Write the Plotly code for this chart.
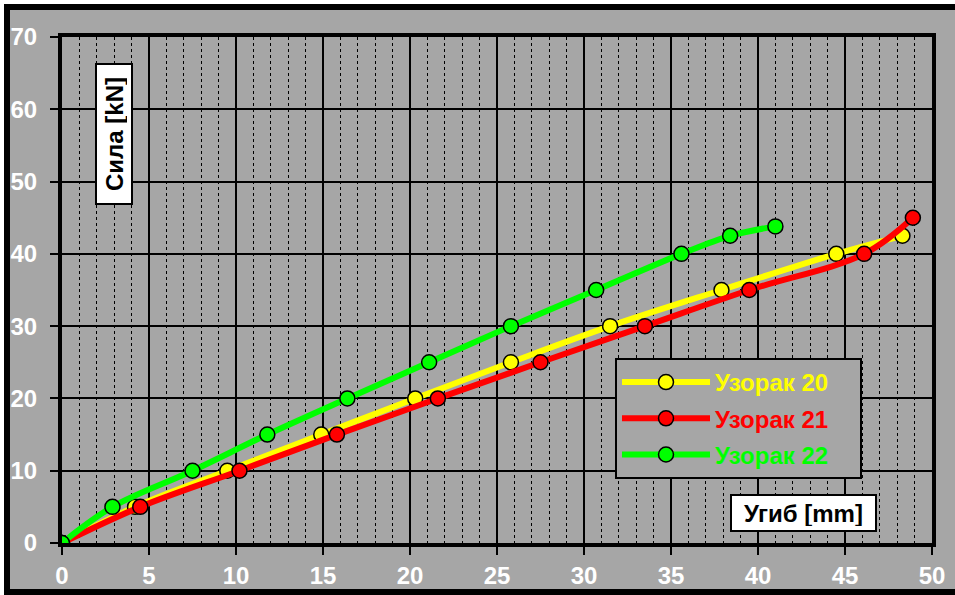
import plotly.graph_objects as go

# Узорак 20
x20 = [0, 4.2, 9.5, 14.9, 20.3, 25.8, 31.5, 37.9, 44.5, 48.3]
y20 = [0, 5, 10, 15, 20, 25, 30, 35, 40, 42.5]
# Узорак 21
x21 = [0, 4.5, 10.2, 15.8, 21.6, 27.5, 33.5, 39.5, 46.1, 48.9]
y21 = [0, 5, 10, 15, 20, 25, 30, 35, 40, 45]
# Узорак 22
x22 = [0, 2.9, 7.5, 11.8, 16.4, 21.1, 25.8, 30.7, 35.6, 38.4, 41.0]
y22 = [0, 5, 10, 15, 20, 25, 30, 35, 40, 42.5, 43.8]

names = ['Узорак 20', 'Узорак 21', 'Узорак 22']
colors = ['#ffff00', '#ff0000', '#00ff00']

W, H = 955, 595
ML, MR, MT, MB = 62, 23, 37, 52
pw, ph = W - ML - MR, H - MT - MB


# screen pixel -> paper fraction
def px(x):
    return (x - ML) / pw


def py(y):
    return (H - MB - y) / ph


fig = go.Figure()
for xs, ys, name, c in zip([x20, x21, x22], [y20, y21, y22], names, colors):
    fig.add_trace(go.Scatter(
        x=xs, y=ys, mode='lines+markers', line_shape='spline',
        name='<span style="color:%s">%s</span>' % (c, name) + '&nbsp;' * 4,
        legendgroup=name,
        line=dict(color=c, width=6),
        marker=dict(size=15, color=c, line=dict(color='black', width=1.5)),
    ))

font = 'Liberation Sans, Arial, sans-serif'
tickfont = dict(size=24, color='white', family=font, weight='bold')

fig.update_layout(
    width=W, height=H,
    margin=dict(l=ML, r=MR, t=MT, b=MB, autoexpand=False),
    paper_bgcolor='white',
    plot_bgcolor='#c0c0c0',
    font=dict(family=font),
    showlegend=True,
    legend=dict(
        x=px(615), y=py(358), xanchor='left', yanchor='top',
        bgcolor='#a6a6a6', bordercolor='black', borderwidth=2,
        font=dict(size=24, family=font, color='black', weight='bold'),
        tracegroupgap=2,
        itemwidth=88,
    ),
    xaxis=dict(
        range=[0, 50], dtick=5, tick0=0,
        showgrid=True, gridcolor='black', gridwidth=1.5,
        minor=dict(dtick=1, showgrid=True, gridcolor='black', griddash='dot', gridwidth=1.2),
        showline=True, linecolor='black', linewidth=4, mirror=True,
        ticks='outside', ticklen=8, tickwidth=2, tickcolor='black',
        tickfont=tickfont,
        zeroline=False, fixedrange=True,
    ),
    yaxis=dict(
        range=[0, 70], dtick=10, tick0=0,
        showgrid=True, gridcolor='black', gridwidth=1.5,
        showline=True, linecolor='black', linewidth=4, mirror=True,
        ticks='outside', ticklen=8, tickwidth=2, tickcolor='black',
        tickfont=tickfont,
        ticklabelstandoff=8,
        zeroline=False, fixedrange=True,
    ),
)

# grey chart area with black frame (cut off on the right like the source image)
fig.add_shape(type='rect', xref='paper', yref='paper', layer='below',
              x0=px(7), x1=px(965), y0=py(592), y1=py(7),
              fillcolor='#a6a6a6', line=dict(color='black', width=6))

fig.add_annotation(xref='paper', yref='paper', x=px(114), y=py(134),
                   xanchor='center', yanchor='middle',
                   text='<b>Сила [kN]</b>', textangle=-90, showarrow=False,
                   width=130, height=26,
                   font=dict(size=24, color='black', family=font),
                   bgcolor='white', bordercolor='black', borderwidth=2, borderpad=4)
fig.add_annotation(xref='paper', yref='paper', x=px(803), y=py(513),
                   xanchor='center', yanchor='middle',
                   text='<b>Угиб [mm]</b>', showarrow=False,
                   width=135, height=26,
                   font=dict(size=24, color='black', family=font),
                   bgcolor='white', bordercolor='black', borderwidth=2, borderpad=4)

# drop the default body margin / scrollbars so the figure sits at the window origin
fig.write_html('out.html', config={'displayModeBar': False},
               post_script="document.body.style.margin='0';"
                           "document.documentElement.style.overflow='hidden';")
